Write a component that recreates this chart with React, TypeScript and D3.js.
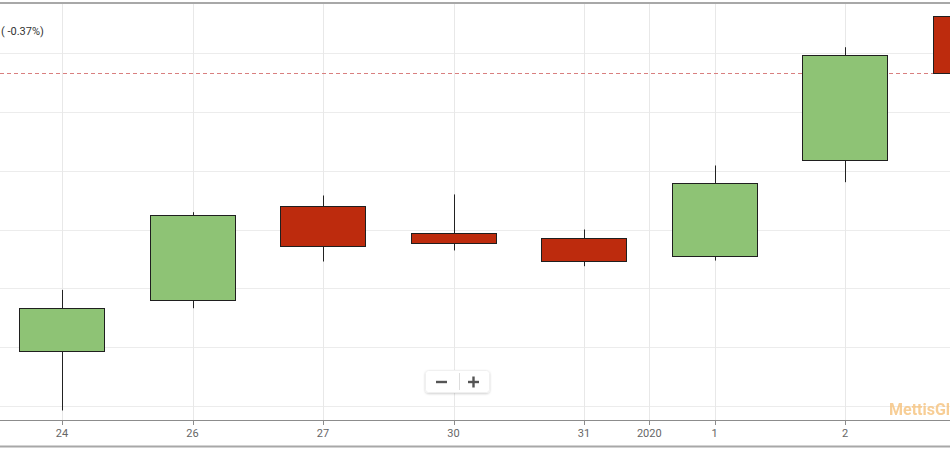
import React from "react";
import * as d3 from "d3";

const dayLabels = ["24", "26", "27", "30", "31", "1", "2", "3"];
const openVals = [39972, 40405, 41196, 40972, 40929, 40776, 41587, 42813];
const highVals = [40487, 41147, 41289, 41298, 41000, 41544, 42549, 42860];
const lowVals = [39462, 40331, 40728, 40822, 40688, 40736, 41402, 42250];
const closeVals = [40335, 41125, 40855, 40890, 40736, 41397, 42479, 42326];
const yearTicks = [{ pos: 4.5, label: "2020" }];
const gridValues = [39500, 40000, 40500, 41000, 41500, 42000, 42500];
const lastClose = 42326;
const changeText = "( -0.37%)";

const W = 950;
const H = 450;

export default function App() {
  const x = d3.scaleLinear().domain([0, 6]).range([62, 845]);
  const y = d3.scaleLinear().domain([39500, 42500]).range([406, 53]);
  const step = x(1) - x(0);
  const bw = step * 0.65;
  const axisY = 420;
  const font = "Roboto, 'Open Sans', Arial, sans-serif";

  const candles = dayLabels.map((d, i) => ({
    label: d,
    o: openVals[i],
    h: highVals[i],
    l: lowVals[i],
    c: closeVals[i],
    i,
  }));

  const xTicks = [
    ...dayLabels.map((d, i) => ({ pos: i, label: d })),
    ...yearTicks,
  ].filter((t) => x(t.pos) < W - 10);

  return (
    <svg
      width={W}
      height={H}
      style={{ position: "absolute", left: 0, top: 0, display: "block", background: "#fff" }}
    >
      <defs>
        <clipPath id="plot">
          <rect x={0} y={4} width={W} height={axisY - 4} />
        </clipPath>
        <filter id="sh" x="-20%" y="-40%" width="140%" height="180%">
          <feDropShadow dx="0" dy="1" stdDeviation="1" floodColor="#000" floodOpacity="0.18" />
        </filter>
      </defs>

      {/* top border */}
      <line x1={0} x2={W} y1={3} y2={3} stroke="#a8a8a8" strokeWidth={2} />

      {/* horizontal grid */}
      {gridValues.map((v) => (
        <line key={v} x1={0} x2={W} y1={Math.round(y(v)) + 0.5} y2={Math.round(y(v)) + 0.5} stroke="#ececec" strokeWidth={1} />
      ))}
      {/* vertical grid */}
      {xTicks.map((t) => (
        <line
          key={"vg" + t.label}
          x1={Math.round(x(t.pos)) + 0.5}
          x2={Math.round(x(t.pos)) + 0.5}
          y1={4}
          y2={axisY}
          stroke="#e8e8e8"
          strokeWidth={1}
        />
      ))}

      {/* last price line */}
      <line
        x1={0}
        x2={W}
        y1={Math.round(y(lastClose)) + 0.5}
        y2={Math.round(y(lastClose)) + 0.5}
        stroke="#d97f7f"
        strokeWidth={1}
        strokeDasharray="4,3"
      />

      <g clipPath="url(#plot)">
        {candles.map((k) => {
          const cx = Math.round(x(k.i)) + 0.5;
          const up = k.c >= k.o;
          const top = y(Math.max(k.o, k.c));
          const bot = y(Math.min(k.o, k.c));
          return (
            <g key={k.label}>
              <line x1={cx} x2={cx} y1={y(k.h)} y2={y(k.l)} stroke="#222" strokeWidth={1} />
              <rect
                x={Math.round(cx - bw / 2) - 0.5}
                y={Math.round(top) + 0.5}
                width={Math.round(bw)}
                height={Math.max(1, Math.round(bot - top))}
                fill={up ? "#8ec375" : "#bd2b0d"}
                stroke="#1f1f1f"
                strokeWidth={1}
              />
            </g>
          );
        })}
      </g>

      {/* change label */}
      <text x={1} y={35} fontFamily={font} fontSize={11} fill="#333">
        {changeText}
      </text>

      {/* watermark (cut at the right edge, as in the reference) */}
      <text x={889} y={415} fontFamily={font} fontSize={16} fontWeight="bold" fill="#f6c27c" opacity={0.8}>
        MettisGlobal
      </text>

      {/* zoom buttons */}
      <g filter="url(#sh)">
        <rect x={425.5} y={370.5} width={64} height={22} rx={3} fill="#fff" stroke="#f0f0f0" />
      </g>
      <line x1={459.5} x2={459.5} y1={373} y2={390} stroke="#ddd" />
      <line x1={436} x2={447} y1={382} y2={382} stroke="#555" strokeWidth={2.4} />
      <line x1={468} x2={479} y1={382} y2={382} stroke="#555" strokeWidth={2.4} />
      <line x1={473.5} x2={473.5} y1={376.5} y2={387.5} stroke="#555" strokeWidth={2.4} />

      {/* x axis */}
      <line x1={0} x2={W} y1={axisY + 0.5} y2={axisY + 0.5} stroke="#8c8c8c" strokeWidth={1} />
      {xTicks.map((t) => (
        <g key={"t" + t.label}>
          <line
            x1={Math.round(x(t.pos)) + 0.5}
            x2={Math.round(x(t.pos)) + 0.5}
            y1={axisY}
            y2={axisY + 5}
            stroke="#8c8c8c"
          />
          <text
            x={x(t.pos)}
            y={437}
            textAnchor="middle"
            fontFamily={font}
            fontSize={11}
            fill="#666"
          >
            {t.label}
          </text>
        </g>
      ))}

      {/* bottom border */}
      <line x1={0} x2={W} y1={446.5} y2={446.5} stroke="#a8a8a8" strokeWidth={2} />
    </svg>
  );
}
